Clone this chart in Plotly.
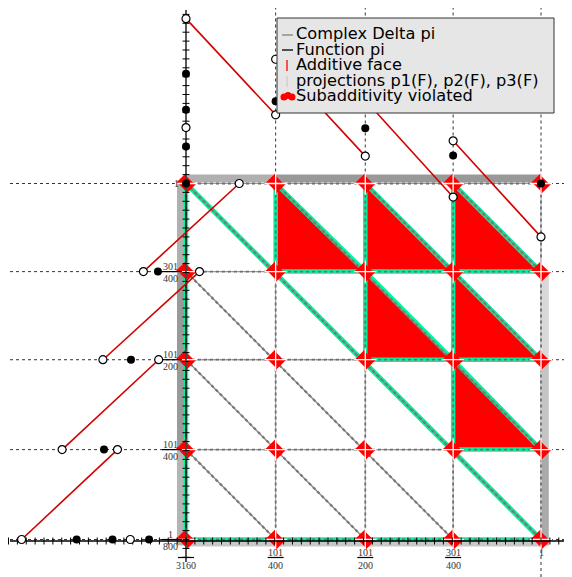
import numpy as np
import plotly.graph_objects as go

# ---------------- data ----------------
breakpoints = [0, 101/400, 101/200, 301/400, 1]
x_tick_num = ["", "101", "101", "301", "1"]
x_tick_den = ["3160", "400", "200", "400", ""]
y_tick_num = ["1", "101", "101", "301", "1"]
y_tick_den = ["800", "400", "200", "400", ""]

# function pi (scaled) : linear pieces with open ends
seg_start_val = [0.463, 0.349, 0.234, 0.120]
seg_end_val = [0.193, 0.077, -0.038, -0.150]
# values at breakpoints (filled dots)
dot_x = [0, 0, 0, 101/400, 101/200, 301/400, 1]
dot_val = [0.308, 0.207, 0.104, 0.231, 0.155, 0.079, 0.0]
# extra open limit point
open_x = [0]
open_val = [0.157]

# cells (column, row) whose lower-left triangle violates subadditivity
viol_cells = [(1, 3), (2, 3), (3, 3), (2, 2), (3, 2), (3, 1)]

legend_items = ["Complex Delta pi", "Function pi", "Additive face",
                "projections p1(F), p2(F), p3(F)", "Subadditivity violated"]

# ---------------- geometry helpers ----------------
# the page body has an 8px margin; the figure is sized to the visible area
MARG = 8
W, H = 572 - MARG, 577 - MARG
SX, SY = 355.0, 356.0
RX0, RY0 = 186.0, 539.5          # window pixel of the origin
OX, OY = RX0 - MARG, RY0 - MARG  # figure pixel of the origin
XMIN, XMAX = -OX / SX, (W - OX) / SX
YMIN, YMAX = -(H - OY) / SY, OY / SY


def dx(p):
    return p / SX


def dy(p):
    return p / SY


def PX(px):
    return (px - RX0) / SX


def PY(py):
    return (RY0 - py) / SY


fig = go.Figure()
shapes = []
annos = []

GREEN = "#00f49c"
RED = "#ff0000"
bp = breakpoints


def band_rect(x0, x1, y0, y1, col):
    shapes.append(dict(type="rect", xref="x", yref="y", x0=x0, x1=x1, y0=y0, y1=y1,
                       fillcolor=col, line=dict(width=0), layer="below"))


def seg(xs, ys, line):
    fig.add_trace(go.Scatter(x=xs, y=ys, mode="lines", line=line,
                             hoverinfo="skip", showlegend=False))


# ---------- projection bands ----------
band_w = dx(8)
band_rect(-band_w - dx(1), -dx(1), bp[3], bp[4], "#b0b0b0")
band_rect(-band_w - dx(1), -dx(1), bp[1], bp[3], "#9a9a9a")
band_rect(-band_w - dx(1), -dx(1), bp[0] - dy(6), bp[1], "#b4b4b4")
band_rect(bp[0], bp[1], 1 + dy(1), 1 + dy(1) + band_w, "#b0b0b0")
band_rect(bp[1], bp[4], 1 + dy(1), 1 + dy(1) + band_w, "#999999")
band_rect(1 + dx(1), 1 + dx(1) + band_w * 0.85, bp[2], bp[3], "#d9d9d9")
band_rect(1 + dx(1), 1 + dx(1) + band_w * 0.85, bp[1], bp[2], "#c4c4c4")
band_rect(1 + dx(1), 1 + dx(1) + band_w * 0.85, bp[0] - dy(6), bp[1], "#aaaaaa")
band_rect(bp[0], bp[4], -dy(7), dy(1), "#c8c8c8")

# ---------- dotted extension lines ----------
ext = dict(color="#333333", width=1, dash="dot")
for b in bp:
    seg([PX(10), 1 + dx(24)], [b, b], ext)
for b in bp[1:]:
    seg([b, b], [1, PY(4)], ext)
seg([1, 1], [YMIN, 0], ext)

# ---------- violated triangles ----------
for (i, j) in viol_cells:
    xs = [bp[i], bp[i], bp[i + 1], bp[i]]
    ys = [bp[j + 1], bp[j], bp[j], bp[j + 1]]
    fig.add_trace(go.Scatter(x=xs, y=ys, mode="lines", fill="toself", fillcolor=RED,
                             line=dict(color=RED, width=0.5), hoverinfo="skip",
                             showlegend=False))

# ---------- green additive lines ----------
GL = dict(color=GREEN, width=4.5)
seg([0, 0], [0, 1], GL)
seg([0, 1], [0, 0], GL)
seg([0, 1], [1, 0], dict(color=GREEN, width=5))
for (i, j) in viol_cells:
    seg([bp[i], bp[i]], [bp[j], bp[j + 1]], GL)
    seg([bp[i], bp[i + 1]], [bp[j], bp[j]], GL)
    seg([bp[i], bp[i + 1]], [bp[j + 1], bp[j]], GL)

# ---------- complex Delta pi (grey) ----------
gl = dict(color="#9a9a9a", width=1)
gd = dict(color="#6f6f6f", width=1.8, dash="dot")
for b in bp:
    for L in (gl, gd):
        seg([b, b], [0, 1], L)
        seg([0, 1], [b, b], L)
diag_c = sorted(set([b for b in bp[1:]] + [1 + b for b in bp[1:-1]]))
for c in diag_c:
    x0, x1 = max(0, c - 1), min(1, c)
    for L in (dict(color="#8a8a8a", width=1.4), dict(color="#777777", width=2.2, dash="dot")):
        seg([x0, x1], [c - x0, c - x1], L)

# ---------- subadditivity violated markers at vertices ----------
vx = [a for a in bp for b in bp]
vy = [b for a in bp for b in bp]
fig.add_trace(go.Scatter(x=vx, y=vy, mode="markers", hoverinfo="skip", showlegend=False,
                         marker=dict(symbol="bowtie", size=15, angle=45, color=RED,
                                     line=dict(width=0))))
fig.add_trace(go.Scatter(x=vx, y=vy, mode="markers", hoverinfo="skip", showlegend=False,
                         marker=dict(symbol="bowtie", size=11, angle=-45, color=RED,
                                     line=dict(width=0))))
fig.add_trace(go.Scatter(x=vx, y=vy, mode="markers", hoverinfo="skip", showlegend=False,
                         marker=dict(symbol="cross-thin", size=16, color="white",
                                     line=dict(width=1.3, color="white"))))

# ---------- axes ----------
axl = dict(color="black", width=1.3)
seg([0, 0], [PY(562), PY(10)], axl)
seg([PX(10), PX(564)], [-dy(1.5), -dy(1.5)], axl)
ty = np.arange(-0.05, 1.5, 0.025)
fig.add_trace(go.Scatter(x=np.zeros_like(ty), y=ty, mode="markers", hoverinfo="skip",
                         showlegend=False,
                         marker=dict(symbol="line-ew", size=5, line=dict(width=1, color="black"))))
tx = np.arange(-0.5, 1.08, 0.025)
fig.add_trace(go.Scatter(x=tx, y=np.full_like(tx, -dy(1.5)), mode="markers", hoverinfo="skip",
                         showlegend=False,
                         marker=dict(symbol="line-ns", size=5, line=dict(width=1, color="black"))))

# ---------- function pi at borders ----------
REDL = dict(color="#d40000", width=1.6)
for k in range(4):
    xa, xb = bp[k], bp[k + 1]
    va, vb = seg_start_val[k], seg_end_val[k]
    seg([xa, xb], [1 + va, 1 + vb], REDL)
    seg([-va, -vb], [xa, xb], REDL)

open_tx = bp[:-1] + bp[1:] + open_x
open_tv = seg_start_val + seg_end_val + open_val
omark = dict(symbol="circle", size=8, color="white", line=dict(color="black", width=1.2))
fig.add_trace(go.Scatter(x=open_tx, y=[1 + v for v in open_tv], mode="markers", marker=omark,
                         hoverinfo="skip", showlegend=False))
fig.add_trace(go.Scatter(x=[-v for v in open_tv], y=open_tx, mode="markers", marker=omark,
                         hoverinfo="skip", showlegend=False))
fmark = dict(symbol="circle", size=8, color="black", line=dict(color="black", width=0))
fig.add_trace(go.Scatter(x=dot_x, y=[1 + v for v in dot_val], mode="markers", marker=fmark,
                         hoverinfo="skip", showlegend=False))
fig.add_trace(go.Scatter(x=[-v for v in dot_val], y=dot_x, mode="markers", marker=fmark,
                         hoverinfo="skip", showlegend=False))

# ---------- tick labels ----------
LF = dict(family="Liberation Serif", size=10, color="#333333")
for b, n, d in zip(bp, x_tick_num, x_tick_den):
    if d:
        if n:
            annos.append(dict(x=b, y=-dy(12), text=n, showarrow=False, font=LF,
                              xref="x", yref="y", height=10))
        annos.append(dict(x=b, y=-dy(25), text=d, showarrow=False, font=LF,
                          xref="x", yref="y", height=10))
        shapes.append(dict(type="line", xref="x", yref="y", x0=b - dx(8), x1=b + dx(8),
                           y0=-dy(18), y1=-dy(18), line=dict(color="black", width=1.2)))
    else:
        annos.append(dict(x=b, y=-dy(13), text=n, showarrow=False, font=LF, xref="x", yref="y"))
for b, n, d in zip(bp, y_tick_num, y_tick_den):
    if d:
        annos.append(dict(x=-dx(16), y=b + dy(6), text=n, showarrow=False, font=LF,
                          xref="x", yref="y", height=10))
        annos.append(dict(x=-dx(16), y=b - dy(6), text=d, showarrow=False, font=LF,
                          xref="x", yref="y", height=10))
        shapes.append(dict(type="line", xref="x", yref="y", x0=-dx(24), x1=-dx(4),
                           y0=b, y1=b, line=dict(color="black", width=1.2)))
    else:
        annos.append(dict(x=-dx(10), y=b, text=n, showarrow=False, font=LF, xref="x", yref="y"))

# ---------- legend (manual, drawn as traces so text sits on top) ----------
lx0, lx1, ly0, ly1 = PX(277), PX(554), PY(113), PY(18)
fig.add_trace(go.Scatter(x=[lx0, lx1, lx1, lx0, lx0], y=[ly0, ly0, ly1, ly1, ly0],
                         mode="lines", fill="toself", fillcolor="#e6e6e6",
                         line=dict(color="#333333", width=1), hoverinfo="skip",
                         showlegend=False))
seg([PX(282), PX(293)], [PY(35), PY(35)], dict(color="#808080", width=1.3))
seg([PX(282), PX(293)], [PY(50), PY(50)], dict(color="black", width=1.3))
seg([PX(287), PX(287)], [PY(60), PY(71)], dict(color=RED, width=1.3))
seg([PX(287), PX(287)], [PY(76), PY(87)], dict(color="#cccccc", width=1.3))
fig.add_trace(go.Scatter(x=[PX(284), PX(288), PX(292)], y=[PY(97), PY(95.5), PY(97)],
                         mode="markers", hoverinfo="skip", showlegend=False,
                         marker=dict(symbol="circle", size=7, color=RED, line=dict(width=0))))
rows = [35, 50.5, 66, 81.5, 97]
fig.add_trace(go.Scatter(x=[PX(296)] * len(rows), y=[PY(r) for r in rows], mode="text",
                         text=legend_items, textposition="middle right",
                         textfont=dict(family="DejaVu Sans", size=16.2, color="black"),
                         hoverinfo="skip", showlegend=False, cliponaxis=False))

fig.update_layout(
    width=W, height=H, margin=dict(l=0, r=0, t=0, b=0),
    paper_bgcolor="white", plot_bgcolor="white",
    xaxis=dict(range=[XMIN, XMAX], visible=False, fixedrange=True),
    yaxis=dict(range=[YMIN, YMAX], visible=False, fixedrange=True),
    shapes=shapes, annotations=annos, showlegend=False,
)
fig.write_html("out.html")
